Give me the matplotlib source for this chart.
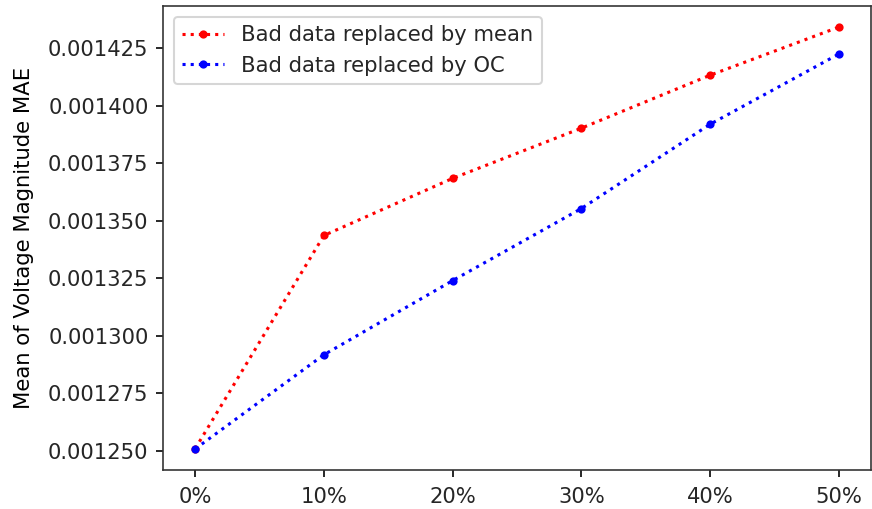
import matplotlib
matplotlib.use("Agg")
import matplotlib.pyplot as plt

x_labels = ["0%", "10%", "20%", "30%", "40%", "50%"]
x_vals = [0, 10, 20, 30, 40, 50]
mean_vals = [0.0012510, 0.0013436, 0.0013684, 0.0013902, 0.0014132, 0.0014341]
oc_vals = [0.0012509, 0.0012918, 0.0013240, 0.0013553, 0.0013919, 0.0014224]

plt.rcParams['font.size'] = 10.3
plt.rcParams['text.color'] = '#262626'
plt.rcParams['xtick.labelcolor'] = '#262626'
plt.rcParams['ytick.labelcolor'] = '#262626'

dpi = 148
fig = plt.figure(figsize=(873 / dpi, 509 / dpi), dpi=dpi)
ax = fig.add_axes([163 / 873, 1 - 470 / 509, (871 - 163) / 873, (470 - 6) / 509])
ax.plot(x_vals, mean_vals, ':', color='red', marker='.', label='Bad data replaced by mean')
ax.plot(x_vals, oc_vals, ':', color='blue', marker='.', label='Bad data replaced by OC')
ax.set_xticks(x_vals)
ax.set_xticklabels(x_labels)
ax.tick_params(axis='x', pad=5)
ax.set_yticks([0.001250, 0.001275, 0.001300, 0.001325, 0.001350, 0.001375, 0.001400, 0.001425])
ax.set_yticklabels(["%.6f" % v for v in ax.get_yticks()])
ax.set_ylabel("Mean of Voltage Magnitude MAE", labelpad=7)
ax.legend(loc='upper left')
for s in ax.spines.values():
    s.set_color('#333333')
fig.savefig("out.png", dpi=dpi)
